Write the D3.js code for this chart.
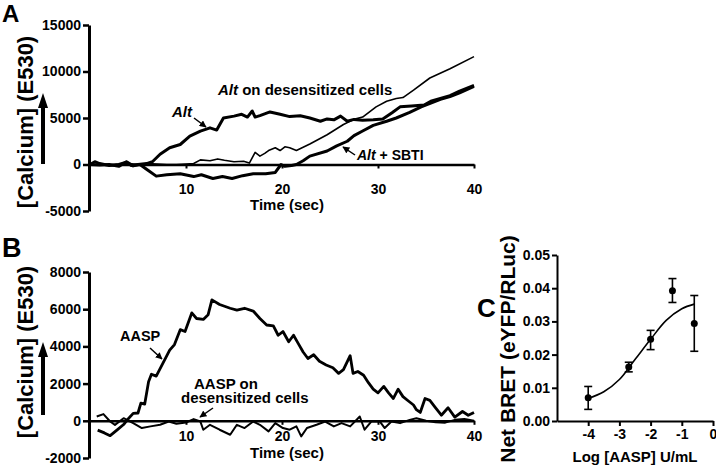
<!DOCTYPE html>
<html>
<head>
<meta charset="utf-8">
<script src="https://cdn.jsdelivr.net/npm/d3@7"></script>
<style>
  html, body { margin: 0; padding: 0; background: #fff; }
  svg { display: block; }
  text { font-family: "Liberation Sans", Arial, sans-serif; font-weight: bold; fill: #000; }
</style>
</head>
<body>
<script>
// ---------------- DATA ----------------
// Panel A: [time (sec), calcium (E530)]
const altTrace = [[0,0],[0.5,300],[1,100],[2,-100],[3,0],[3.8,250],[4.3,-100],[5,0],[5.9,100],[6.5,300],[7.3,1100],[8.3,1800],[9.4,2150],[10.4,3050],[11.5,3580],[12.5,3940],[13.2,3700],[13.9,5000],[15,5200],[15.8,5400],[16.4,5100],[16.9,5750],[17.2,5100],[17.7,5250],[18.75,5650],[19.8,5400],[20.8,5150],[21.9,5250],[22.9,5000],[24,4650],[24.7,4900],[25.4,4800],[26.1,5200],[26.8,4650],[27.5,4850],[28.4,4750],[29.5,4800],[30.5,4900],[31.5,5600],[32.3,6200],[33.5,6300],[34.8,6400],[35.5,6800],[36.5,7100],[37.5,7400],[38.5,7900],[40,8500]];
const altSbtiTrace = [[0,0],[1,-50],[2,0],[3,-200],[3.8,300],[4.5,-150],[5.2,0],[6,-600],[6.9,-1250],[8,-1100],[9.4,-1000],[10.8,-1300],[11.6,-1100],[12.8,-1500],[13.8,-1300],[14.8,-1500],[15.9,-1200],[17,-1000],[18.3,-1000],[19.3,-850],[19.9,0],[20.3,-200],[21,-100],[21.5,0],[22.2,400],[22.9,900],[24.7,1450],[25.7,2000],[26.8,2500],[27.5,3100],[28.4,3600],[29.5,4200],[30.9,4650],[31.9,5000],[33.3,5600],[34.5,6200],[35.5,6600],[36.5,7000],[37.5,7300],[38.5,7700],[40,8400]];
const altDesensTrace = [[0,0],[2,-50],[4,100],[5,0],[6,100],[7,50],[8,0],[9,0],[10,50],[10.8,100],[11.5,500],[12.5,400],[13.3,600],[14,450],[15,300],[16,350],[16.6,150],[17.2,1300],[17.7,900],[18.2,1200],[18.6,1500],[19.3,1800],[19.8,1500],[20.3,1900],[20.8,1800],[21.5,1500],[22.9,2200],[24.7,3200],[26.4,4300],[27.5,4850],[28.4,5100],[29.8,6200],[30.9,6800],[31.9,7100],[32.6,7200],[33.7,8000],[35.4,9300],[37.5,10300],[40,11600]];
const aYTicks = [-5000, 0, 5000, 10000, 15000];
const timeTicks = [10, 20, 30, 40];

// Panel B
const aaspTrace = [[0.8,-500],[1.5,-650],[2.1,-800],[2.8,-500],[3.5,-200],[3.8,0],[4.5,400],[5.0,420],[5.3,950],[5.7,900],[6.1,2100],[6.4,2500],[6.9,2400],[7.6,3100],[8.3,3800],[8.8,4100],[9.4,4900],[9.9,4800],[10.6,5800],[11.1,5500],[11.8,5450],[12.3,5700],[12.7,6500],[13.5,6250],[14.6,6050],[15.3,5950],[16.1,6050],[17,5900],[17.7,5500],[18.4,5150],[19.1,5100],[19.6,4600],[20.1,4800],[20.7,4250],[21.2,4600],[21.7,4150],[22.2,3700],[22.7,3350],[23.3,3550],[23.9,3200],[24.6,3000],[25.3,2850],[25.9,2550],[26.4,2750],[27.1,3500],[27.4,2550],[27.9,2650],[28.5,2450],[29,2050],[29.5,1700],[30,1500],[30.6,1850],[31.1,1500],[31.6,1200],[32.1,1700],[32.6,1300],[33.2,1050],[33.7,850],[34,600],[34.4,450],[34.9,1200],[35.4,1100],[36,700],[36.6,300],[37.3,700],[38,200],[38.8,500],[39.4,300],[40,450]];
const aaspDesensTrace = [[0.7,230],[1.4,360],[2.1,-40],[2.6,-220],[3.5,140],[4.5,-130],[5.4,-390],[6.3,-300],[7.3,-215],[8.2,-40],[9,-160],[10,-90],[10.8,90],[11.5,-40],[11.8,-480],[12.5,-215],[13.5,-480],[14.6,-750],[15.3,-215],[16.1,-390],[17,-40],[17.7,-215],[18.6,-570],[19.3,-125],[20.1,-390],[20.8,-480],[21.5,-300],[22,-840],[22.6,-390],[23.6,-215],[24.5,-40],[25.4,-300],[26.2,-125],[27.1,-300],[28.1,230],[28.6,-480],[29.3,-40],[30.2,-40],[30.7,-390],[31.4,-40],[32.3,-125],[33.3,50],[34,140],[35,0],[36,-80],[37,-100],[38,50],[39,100],[40,0]];
const bYTicks = [-2000, 0, 2000, 4000, 6000, 8000];

// Panel C: log[AASP] U/mL, Net BRET mean, lower, upper
const logDose = [-4, -2.7, -2, -1.3, -0.6];
const bretMean = [0.0070, 0.0163, 0.0246, 0.0392, 0.0294];
const bretLow  = [0.0035, 0.0148, 0.0215, 0.0357, 0.0210];
const bretHigh = [0.0104, 0.0177, 0.0273, 0.0429, 0.0378];
const fitX = [-4, -3.5, -3, -2.5, -2, -1.5, -1, -0.6];
const fitY = [0.0068, 0.0088, 0.0125, 0.0185, 0.0246, 0.0303, 0.0338, 0.0352];
const cXTicks = [-4, -3, -2, -1, 0];
const cYTicks = [0, 0.01, 0.02, 0.03, 0.04, 0.05];

// ---------------- DRAW ----------------
const svg = d3.select("body").append("svg").attr("width", 716).attr("height", 468);
svg.append("rect").attr("width", 716).attr("height", 468).attr("fill", "#fff");

const defs = svg.append("defs");
defs.append("marker").attr("id", "ah").attr("viewBox", "0 0 10 10")
  .attr("refX", 9).attr("refY", 5).attr("markerWidth", 7).attr("markerHeight", 7)
  .attr("markerUnits", "userSpaceOnUse").attr("orient", "auto")
  .append("path").attr("d", "M0,0 L10,5 L0,10 z").attr("fill", "#000");

function styleAxis(g, domainW, tickW, fs) {
  g.select(".domain").attr("stroke", "#000").attr("stroke-width", domainW);
  g.selectAll(".tick line").attr("stroke", "#000").attr("stroke-width", tickW);
  g.selectAll(".tick text").style("font-size", fs + "px").style("font-weight", "bold")
    .attr("font-family", "Liberation Sans, Arial, sans-serif").attr("fill", "#000");
}

function yArrow(x, yBottom, yTip) {
  svg.append("line").attr("x1", x).attr("x2", x).attr("y1", yBottom).attr("y2", yTip + 12)
    .attr("stroke", "#000").attr("stroke-width", 4);
  svg.append("path").attr("d", `M${x},${yTip} L${x-5},${yTip+15} L${x+5},${yTip+15} Z`).attr("fill", "#000");
}
function annArrow(x1, y1, x2, y2) {
  svg.append("line").attr("x1", x1).attr("y1", y1).attr("x2", x2).attr("y2", y2)
    .attr("stroke", "#000").attr("stroke-width", 1.5).attr("marker-end", "url(#ah)");
}

// ===== Panel A =====
const xA = d3.scaleLinear().domain([0, 40]).range([90, 474]);
const yA = d3.scaleLinear().domain([-5000, 15000]).range([211, 25]);
const lineA = d3.line().x(d => xA(d[0])).y(d => yA(d[1]));

const axAy = svg.append("g").attr("transform", "translate(89,0)")
  .call(d3.axisLeft(yA).tickValues(aYTicks).tickSize(6).tickSizeOuter(0).tickPadding(2).tickFormat(d => String(d)));
styleAxis(axAy, 3, 2.5, 14);

const axAx = svg.append("g").attr("transform", `translate(0,${yA(0)})`)
  .call(d3.axisBottom(xA).tickValues(timeTicks).tickSize(4).tickSizeOuter(0).tickPadding(16).tickFormat(d => String(d)));
styleAxis(axAx, 2.5, 2, 14);

svg.append("path").datum(altDesensTrace).attr("d", lineA).attr("fill", "none").attr("stroke", "#000").attr("stroke-width", 1.6).attr("stroke-linejoin", "round");
svg.append("path").datum(altSbtiTrace).attr("d", lineA).attr("fill", "none").attr("stroke", "#000").attr("stroke-width", 3).attr("stroke-linejoin", "round");
svg.append("path").datum(altTrace).attr("d", lineA).attr("fill", "none").attr("stroke", "#000").attr("stroke-width", 3).attr("stroke-linejoin", "round");

svg.append("text").attr("x", 287).attr("y", 210).attr("text-anchor", "middle").style("font-size", "15px").text("Time (sec)");
svg.append("text").attr("transform", "translate(33,122) rotate(-90)").attr("text-anchor", "middle").style("font-size", "22px").text("[Calcium] (E530)");
yArrow(43, 164, 93);
svg.append("text").attr("x", 2).attr("y", 22).style("font-size", "24px").text("A");

// annotations
svg.append("text").attr("x", 172).attr("y", 117).style("font-size", "15px").style("font-style", "italic").text("Alt");
annArrow(194, 118, 206, 127);
const tDes = svg.append("text").attr("x", 218).attr("y", 95).style("font-size", "15px");
tDes.append("tspan").style("font-style", "italic").text("Alt");
tDes.append("tspan").text(" on desensitized cells");
const tSb = svg.append("text").attr("x", 357).attr("y", 160).style("font-size", "14px");
tSb.append("tspan").style("font-style", "italic").text("Alt");
tSb.append("tspan").text(" + SBTI");
annArrow(355, 155, 343, 147);

// ===== Panel B =====
const xB = d3.scaleLinear().domain([0, 40]).range([90, 474]);
const yB = d3.scaleLinear().domain([-2000, 8000]).range([458, 272]);
const lineB = d3.line().x(d => xB(d[0])).y(d => yB(d[1]));

const axBy = svg.append("g").attr("transform", "translate(89,0)")
  .call(d3.axisLeft(yB).tickValues(bYTicks).tickSize(6).tickSizeOuter(0).tickPadding(2).tickFormat(d => String(d)));
styleAxis(axBy, 3, 2.5, 14);

const axBx = svg.append("g").attr("transform", `translate(0,${yB(0)})`)
  .call(d3.axisBottom(xB).tickValues(timeTicks).tickSize(4).tickSizeOuter(0).tickPadding(6).tickFormat(d => String(d)));
styleAxis(axBx, 2.5, 2, 14);

svg.append("path").datum(aaspDesensTrace).attr("d", lineB).attr("fill", "none").attr("stroke", "#000").attr("stroke-width", 2).attr("stroke-linejoin", "round");
svg.append("path").datum(aaspTrace).attr("d", lineB).attr("fill", "none").attr("stroke", "#000").attr("stroke-width", 2.8).attr("stroke-linejoin", "round");

svg.append("text").attr("x", 287).attr("y", 458).attr("text-anchor", "middle").style("font-size", "15px").text("Time (sec)");
svg.append("text").attr("transform", "translate(33,352) rotate(-90)").attr("text-anchor", "middle").style("font-size", "22px").text("[Calcium] (E530)");
yArrow(43, 415, 342);
svg.append("text").attr("x", 2).attr("y", 257).style("font-size", "27px").text("B");

svg.append("text").attr("x", 120).attr("y", 341).style("font-size", "14.5px").text("AASP");
annArrow(150, 348, 162, 359);
const tAd = svg.append("text").style("font-size", "15px");
tAd.append("tspan").attr("x", 194).attr("y", 389).text("AASP on");
tAd.append("tspan").attr("x", 181).attr("y", 403).text("desensitized cells");
annArrow(213, 408, 200, 417);

// ===== Panel C =====
const xC = d3.scaleLinear().domain([-5, 0]).range([557, 713]);
const yC = d3.scaleLinear().domain([0, 0.05]).range([421, 255]);

const axCy = svg.append("g").attr("transform", "translate(557,0)")
  .call(d3.axisLeft(yC).tickValues(cYTicks).tickSize(5).tickSizeOuter(0).tickPadding(2).tickFormat(d3.format(".2f")));
styleAxis(axCy, 2, 2, 14);
const axCx = svg.append("g").attr("transform", "translate(0,421)")
  .call(d3.axisBottom(xC).tickValues(cXTicks).tickSize(5).tickSizeOuter(0).tickPadding(3).tickFormat(d => String(d)));
styleAxis(axCx, 2, 2, 14);

const fitPts = fitX.map((x, i) => [x, fitY[i]]);
svg.append("path").datum(fitPts)
  .attr("d", d3.line().x(d => xC(d[0])).y(d => yC(d[1])).curve(d3.curveCatmullRom.alpha(0.5)))
  .attr("fill", "none").attr("stroke", "#000").attr("stroke-width", 1.6);

const cg = svg.append("g");
logDose.forEach((x, i) => {
  const cx = xC(x);
  cg.append("line").attr("x1", cx).attr("x2", cx).attr("y1", yC(bretLow[i])).attr("y2", yC(bretHigh[i])).attr("stroke", "#000").attr("stroke-width", 1.6);
  [bretLow[i], bretHigh[i]].forEach(v => {
    cg.append("line").attr("x1", cx - 4).attr("x2", cx + 4).attr("y1", yC(v)).attr("y2", yC(v)).attr("stroke", "#000").attr("stroke-width", 1.6);
  });
  cg.append("circle").attr("cx", cx).attr("cy", yC(bretMean[i])).attr("r", 3.5).attr("fill", "#000");
});

svg.append("text").attr("x", 635).attr("y", 462).attr("text-anchor", "middle").style("font-size", "15px").text("Log [AASP] U/mL");
svg.append("text").attr("transform", "translate(515,349) rotate(-90)").attr("text-anchor", "middle").style("font-size", "21px").text("Net BRET (eYFP/RLuc)");
svg.append("text").attr("x", 477).attr("y", 317).style("font-size", "26px").text("C");
</script>
</body>
</html>
